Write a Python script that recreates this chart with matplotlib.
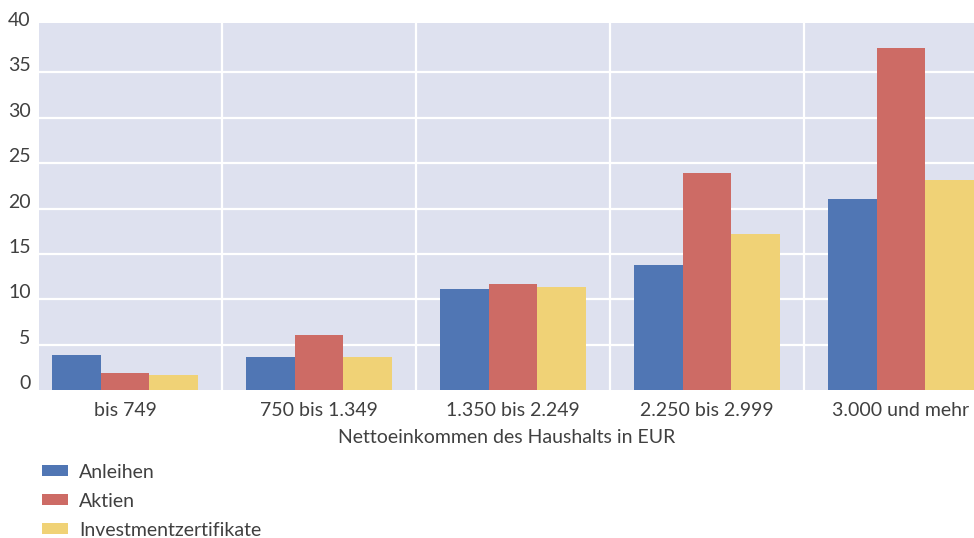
import numpy as np
import matplotlib.pyplot as plt
from matplotlib.transforms import ScaledTranslation

# Wertpapierbesitz nach Haushaltsnettoeinkommen (in %)
categories = ["bis 749", "750 bis 1.349", "1.350 bis 2.249", "2.250 bis 2.999", "3.000 und mehr"]
anleihen = [3.9, 3.6, 11.1, 13.8, 21.0]
aktien = [1.9, 6.1, 11.7, 23.9, 37.7]
investment = [1.7, 3.6, 11.4, 17.2, 23.1]

series = [("Anleihen", anleihen, "#5076B4"),
          ("Aktien", aktien, "#CD6B65"),
          ("Investmentzertifikate", investment, "#F0D276")]

plt.rcParams['font.family'] = ['Lato', 'DejaVu Sans']
text_col = "#404040"
fs = 14

fig = plt.figure(figsize=(9.74, 5.38), dpi=100)
ax = fig.add_axes([39 / 974, 1 - 390 / 538, 1 - 39 / 974, (390 - 23) / 538])
ax.set_facecolor("#DEE1EF")

x = np.arange(len(categories))
width = 0.25
for i, (name, vals, col) in enumerate(series):
    ax.bar(x + (i - 1) * width, vals, width, color=col, label=name, zorder=3, linewidth=0)

ax.set_xlim(-0.443, 4.376)
ax.set_ylim(0, 40.45)

# white grid: horizontal at the ticks, vertical between groups
ax.set_yticks(np.arange(0, 45, 5))
ax.set_xticks(x)
ax.set_xticks(x[:-1] + 0.5, minor=True)
ax.grid(axis='y', which='major', color='white', linewidth=1.6, zorder=1)
ax.grid(axis='x', which='minor', color='white', linewidth=1.6, zorder=1)
gl = ax.get_ygridlines()
gl[0].set_visible(False)
gl[-1].set_visible(False)
ax.tick_params(which='both', length=0)
ax.tick_params(axis='x', pad=9)
ax.tick_params(axis='y', pad=6)
for s in ax.spines.values():
    s.set_visible(False)

ax.set_xticklabels(categories, fontsize=fs, color=text_col)
for lab in ax.get_yticklabels():
    lab.set_fontsize(fs)
    lab.set_color(text_col)
    lab.set_transform(lab.get_transform() + ScaledTranslation(0, 8 / 100, fig.dpi_scale_trans))

ax.set_xlabel("Nettoeinkommen des Haushalts in EUR", fontsize=fs, color=text_col, labelpad=7)

leg = fig.legend(loc='upper left', bbox_to_anchor=(24 / 974, 1 - 446 / 538), frameon=False,
                 fontsize=fs, handlelength=1.35, handleheight=0.5, handletextpad=0.6,
                 labelspacing=0.62)
for t in leg.get_texts():
    t.set_color(text_col)

fig.savefig("out.png", dpi=100)
